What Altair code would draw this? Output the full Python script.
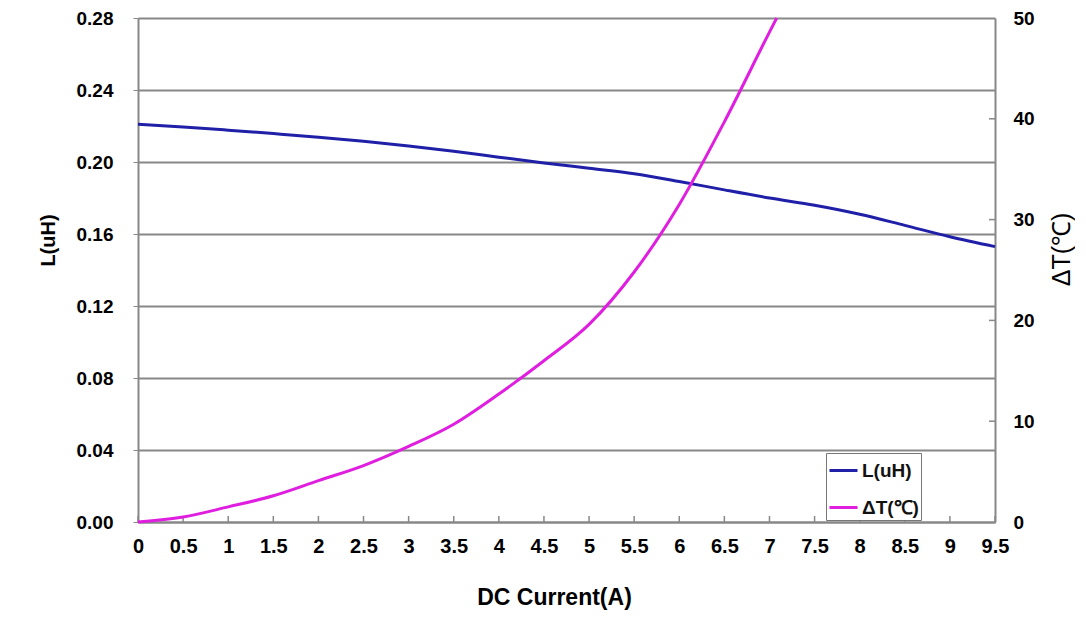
import altair as alt
import pandas as pd

# ---- data ----
current_L = [0, 0.5, 1, 1.5, 2, 2.5, 3, 3.5, 4, 4.5, 5, 5.5, 6, 6.5, 7, 7.5, 8, 8.5, 9, 9.5]
inductance = [0.2210, 0.2195, 0.2177, 0.2158, 0.2138, 0.2115, 0.2089, 0.2060, 0.2027, 0.1995,
              0.1965, 0.1935, 0.1892, 0.1845, 0.1800, 0.1760, 0.1710, 0.1648, 0.1585, 0.1530]

current_T = [0, 0.5, 1, 1.5, 2, 2.5, 3, 3.5, 4, 4.5, 5, 5.5, 6, 6.5, 7, 7.08]
delta_T = [0, 0.5, 1.5, 2.6, 4.1, 5.6, 7.5, 9.7, 12.7, 16.0, 19.6, 24.8, 31.5, 39.7, 48.6, 50.0]

x_ticks = [0, 0.5, 1, 1.5, 2, 2.5, 3, 3.5, 4, 4.5, 5, 5.5, 6, 6.5, 7, 7.5, 8, 8.5, 9, 9.5]
l_ticks = [0, 0.04, 0.08, 0.12, 0.16, 0.20, 0.24, 0.28]
t_ticks = [0, 10, 20, 30, 40, 50]

series_names = ["L(uH)", "ΔT(℃)"]
series_colors = ["#1f1fa8", "#e01ee0"]

df_L = pd.DataFrame({"I": current_L, "L": inductance, "series": series_names[0]})
df_T = pd.DataFrame({"I": current_T, "T": delta_T, "series": series_names[1]})
df_xt = pd.DataFrame({"I": x_ticks})
df_tt = pd.DataFrame({"T": t_ticks[1:-1]})

W, H = 857, 504
FONT = "Liberation Sans"

x_enc = alt.X("I:Q", scale=alt.Scale(domain=[0, 9.5], nice=False),
              axis=alt.Axis(values=x_ticks, format="~g", title="DC Current(A)", grid=False,
                            ticks=False, labelPadding=14, labelFontSize=20, labelFontWeight="bold",
                            titleFontSize=23, titleFontWeight="bold",
                            titleX=416, titleY=64, titleBaseline="top",
                            domainColor="#888888", domainWidth=2, labelFlush=False))

color_enc = alt.Color("series:N", scale=alt.Scale(domain=series_names, range=series_colors),
                      legend=alt.Legend(title=None, orient="none", legendX=688, legendY=435,
                                        symbolType="stroke", symbolSize=784, symbolStrokeWidth=3,
                                        labelFontSize=19, labelFontWeight="bold", labelFont=FONT,
                                        labelColor="#111111",
                                        strokeColor="#777777", fillColor="white", padding=2,
                                        rowPadding=11, labelOffset=3))

line_L = alt.Chart(df_L).mark_line(strokeWidth=3, interpolate="monotone").encode(
    x=x_enc,
    y=alt.Y("L:Q", scale=alt.Scale(domain=[0, 0.28], nice=False),
            axis=alt.Axis(values=l_ticks, format=".2f", title="L(uH)", grid=True,
                          gridColor="#888888", gridWidth=2, tickColor="#888888", tickSize=5,
                          domainColor="#888888", domainWidth=2,
                          labelFontSize=19, labelFontWeight="bold", labelPadding=20,
                          titleFontSize=20, titleFontWeight="bold",
                          titleX=-90, titleY=222, titleBaseline="middle", titleAngle=270)),
    color=color_enc,
)

x_tick_marks = alt.Chart(df_xt).mark_rule(color="#888888", strokeWidth=1.5).encode(
    x=alt.X("I:Q", scale=alt.Scale(domain=[0, 9.5], nice=False)),
    y=alt.value(H - 6), y2=alt.value(H),
)

left_layer = alt.layer(line_L, x_tick_marks)

t_scale = alt.Scale(domain=[0, 50], nice=False)
line_T = alt.Chart(df_T).mark_line(strokeWidth=3, interpolate="monotone").encode(
    x=alt.X("I:Q", scale=alt.Scale(domain=[0, 9.5], nice=False)),
    y=alt.Y("T:Q", scale=t_scale,
            axis=alt.Axis(orient="right", values=t_ticks, title="ΔT(℃)", grid=False,
                          ticks=False, domainColor="#888888", domainWidth=2,
                          labelFontSize=19, labelFontWeight="bold", labelPadding=18,
                          titleFontSize=25, titleFontWeight="normal", titleAngle=270,
                          titleX=66, titleY=231, titleBaseline="middle")),
    color=color_enc,
)
t_tick_marks = alt.Chart(df_tt).mark_rule(color="#888888", strokeWidth=1.5).encode(
    y=alt.Y("T:Q", scale=t_scale),
    x=alt.value(W - 6), x2=alt.value(W),
)
right_layer = alt.layer(line_T, t_tick_marks)

chart = alt.layer(left_layer, right_layer).resolve_scale(y="independent").properties(
    width=W, height=H,
    autosize=alt.AutoSizeParams(type="none"),
    padding={"left": 130, "top": 10, "right": 80, "bottom": 100},
).configure_view(stroke="#888888", strokeWidth=2).configure_axis(
    labelFont=FONT, titleFont=FONT, labelColor="#111111", titleColor="#111111"
).configure(background="white")

chart.save("out.html", embed_options={"renderer": "svg", "actions": False})
